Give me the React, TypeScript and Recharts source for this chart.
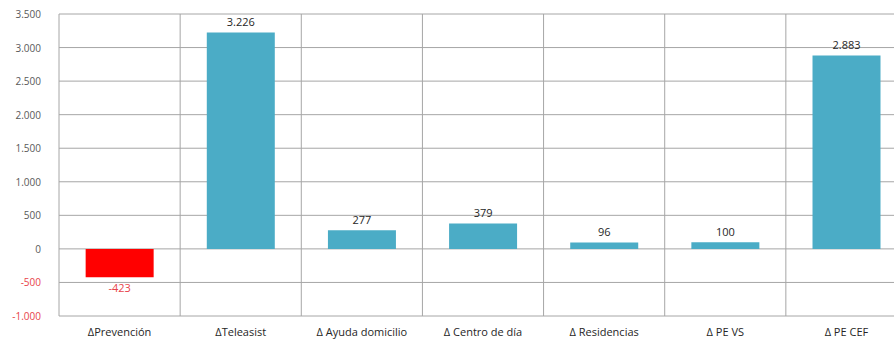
import React from "react";
import { BarChart, Bar, XAxis, YAxis, CartesianGrid, Cell, LabelList } from "recharts";

const categories = ["ΔPrevención", "ΔTeleasist", "Δ Ayuda domicilio", "Δ Centro de día", "Δ Residencias", "Δ PE VS", "Δ PE CEF"];
const values = [-423, 3226, 277, 379, 96, 100, 2883];
const yTicks = [-1000, -500, 0, 500, 1000, 1500, 2000, 2500, 3000, 3500];

const data = categories.map((c, i) => ({ name: c, value: values[i] }));

const fmt = (v: number) => {
  const s = Math.abs(v).toString().replace(/\B(?=(\d{3})+(?!\d))/g, ".");
  return (v < 0 ? "-" : "") + s;
};

const FONT = "'Open Sans', 'Noto Sans', sans-serif";

const YTick = (props: any) => {
  const { x, y, payload } = props;
  const v = payload.value;
  return (
    <text x={x - 10} y={y} dy={4} textAnchor="end" fontSize={10} fontFamily={FONT} fill={v < 0 ? "#E8434A" : "#595959"}>
      {fmt(v)}
    </text>
  );
};

const XTick = (props: any) => {
  const { x, y, payload } = props;
  return (
    <text x={x} y={y} dy={12} textAnchor="middle" fontSize={11} fontFamily={FONT} fill="#262626">
      {payload.value}
    </text>
  );
};

const ValueLabel = (props: any) => {
  const { x, y, width, height, value } = props;
  const neg = value < 0;
  const cx = x + width / 2;
  const top = Math.min(y, y + height);
  const bottom = Math.max(y, y + height);
  const ty = neg ? bottom + 15 : top - 6;
  return (
    <text x={cx} y={ty} textAnchor="middle" fontSize={11} fontFamily={FONT} fill={neg ? "#E8434A" : "#262626"}>
      {fmt(value)}
    </text>
  );
};

export default function App() {
  return (
    <div style={{ position: "absolute", left: 0, top: 0, width: 894, height: 349, overflow: "hidden", background: "#fff" }}>
      <BarChart
        width={907}
        height={349}
        data={data}
        margin={{ top: 14, right: 0, bottom: 0, left: 0 }}
        barCategoryGap="22%"
      >
        <CartesianGrid
          stroke="#A6A6A6"
          strokeWidth={1}
          verticalCoordinatesGenerator={({ offset }: any) =>
            categories.map((_, i) => offset.left + (i * offset.width) / categories.length).concat([offset.left + offset.width])
          }
        />
        <XAxis dataKey="name" height={33} tick={<XTick />} tickLine={false} axisLine={false} interval={0} />
        <YAxis
          width={59}
          domain={[-1000, 3500]}
          ticks={yTicks}
          tick={<YTick />}
          tickLine={false}
          axisLine={false}
          interval={0}
        />
        <Bar dataKey="value" isAnimationActive={false}>
          {data.map((d, i) => (
            <Cell key={i} fill={d.value < 0 ? "#FF0000" : "#4BACC6"} />
          ))}
          <LabelList dataKey="value" content={<ValueLabel />} />
        </Bar>
      </BarChart>
    </div>
  );
}
